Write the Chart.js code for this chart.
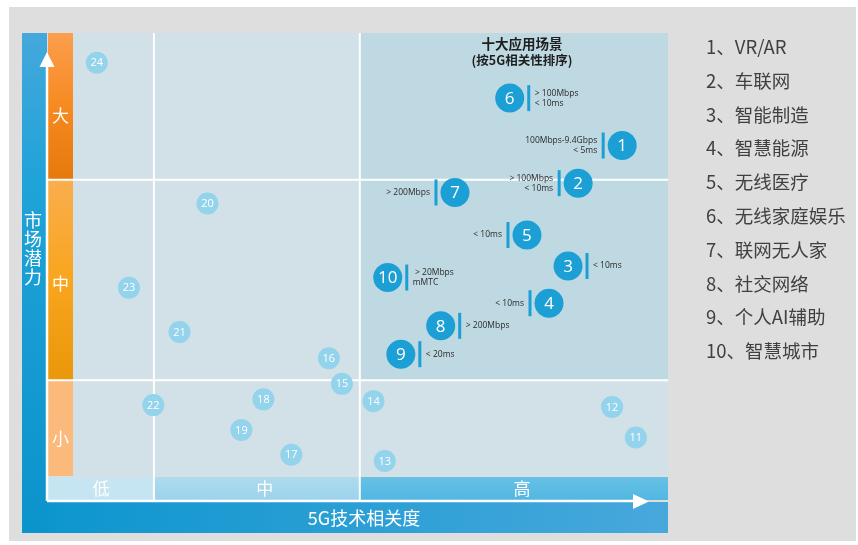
<!DOCTYPE html>
<html>
<head>
<meta charset="utf-8">
<script src="https://cdn.jsdelivr.net/npm/chart.js@4"></script>
<style>
  html, body { margin: 0; padding: 0; background: #ffffff; }
  #wrap { width: 858px; height: 545px; }
</style>
</head>
<body>
<div id="wrap"><canvas id="chart" width="858" height="545"></canvas></div>
<script>
// 十大应用场景 (numbered 1-10)
const topIds = [1, 2, 3, 4, 5, 6, 7, 8, 9, 10];
const topX = [92.3, 84.9, 83.2, 80.0, 76.3, 73.4, 64.2, 61.8, 55.1, 52.9];
const topY = [74.6, 66.1, 47.4, 39.0, 54.4, 85.3, 64.0, 33.9, 27.5, 44.8];
const topNotes = [
  ['100Mbps-9.4Gbps', '< 5ms'],
  ['> 100Mbps', '< 10ms'],
  ['< 10ms'],
  ['< 10ms'],
  ['< 10ms'],
  ['> 100Mbps', '< 10ms'],
  ['> 200Mbps'],
  ['> 200Mbps'],
  ['< 20ms'],
  [' > 20Mbps', 'mMTC']
];
const topNames = ['VR/AR', '车联网', '智能制造', '智慧能源', '无线医疗',
  '无线家庭娱乐', '联网无人家', '社交网络', '个人AI辅助', '智慧城市'];

// other scenarios (11-24)
const otherIds = [11, 12, 13, 14, 15, 16, 17, 18, 19, 20, 21, 22, 23, 24];
const otherX = [94.6, 90.6, 52.4, 50.5, 45.2, 43.0, 36.7, 32.0, 28.3, 22.6, 17.9, 13.5, 9.4, 4.0];
const otherY = [8.7, 15.6, 3.4, 16.9, 20.8, 26.6, 4.8, 17.3, 10.4, 61.5, 32.5, 16.0, 42.5, 93.3];

// axis bands
const xLevels = ['低', '中', '高'];
const yLevels = ['小', '中', '大'];
const xBreaks = [13.6, 48.2];
const yBreaks = [21.6, 66.9];
const xTitle = '5G技术相关度';
const yTitle = '市场潜力';
const titleLines = ['十大应用场景', '(按5G相关性排序)'];

// note placement: -1 = bar on left of bubble, 1 = right
const noteSide = [-1, -1, 1, -1, -1, 1, -1, 1, 1, 1];

const CJK = '"Noto Sans CJK SC", "Noto Sans", sans-serif';
const LAT = '"Open Sans", "Noto Sans", sans-serif';

const backdrop = {
  id: 'backdrop',
  beforeDraw(chart) {
    const { ctx, chartArea: a, scales: { x, y } } = chart;
    const vx = xBreaks.map(v => x.getPixelForValue(v));
    const hy = yBreaks.map(v => y.getPixelForValue(v));
    ctx.save();
    ctx.fillStyle = '#dedede';
    ctx.fillRect(9, 7, 847, 534);

    // plot background
    ctx.fillStyle = '#d1e1e7';
    ctx.fillRect(a.left, a.top, a.right - a.left, a.bottom - a.top);
    ctx.fillStyle = '#bfd9e2';
    ctx.fillRect(vx[1], a.top, a.right - vx[1], hy[0] - a.top);

    // left blue bar
    let g = ctx.createLinearGradient(0, a.top, 0, 533);
    g.addColorStop(0, '#45a8dc');
    g.addColorStop(0.3, '#1fa3d8');
    g.addColorStop(1, '#0b93cb');
    ctx.fillStyle = g;
    ctx.fillRect(22, a.top, 25, 533 - a.top);

    // bottom blue bar
    g = ctx.createLinearGradient(47, 0, a.right, 0);
    g.addColorStop(0, '#0d96ce');
    g.addColorStop(1, '#48a8dc');
    ctx.fillStyle = g;
    ctx.fillRect(47, 502, a.right - 47, 31);

    // orange level column
    const colL = 48, colW = a.left - 48;
    g = ctx.createLinearGradient(0, a.top, 0, hy[1]);
    g.addColorStop(0, '#fb9e4e');
    g.addColorStop(0.5, '#f78a20');
    g.addColorStop(1, '#e6790b');
    ctx.fillStyle = g;
    ctx.fillRect(colL, a.top, colW, hy[1] - a.top);
    g = ctx.createLinearGradient(0, hy[1], 0, hy[0]);
    g.addColorStop(0, '#f9ae4e');
    g.addColorStop(0.5, '#f9a51e');
    g.addColorStop(1, '#ea970a');
    ctx.fillStyle = g;
    ctx.fillRect(colL, hy[1], colW, hy[0] - hy[1]);
    ctx.fillStyle = '#fbb97b';
    ctx.fillRect(colL, hy[0], colW, a.bottom - hy[0]);

    // x level band
    const bandTop = a.bottom + 1, bandH = 23;
    ctx.fillStyle = '#c6e5f2';
    ctx.fillRect(48, bandTop, vx[0] - 48, bandH);
    g = ctx.createLinearGradient(0, bandTop, 0, bandTop + bandH);
    g.addColorStop(0, '#addbee');
    g.addColorStop(1, '#9dd3ea');
    ctx.fillStyle = g;
    ctx.fillRect(vx[0], bandTop, vx[1] - vx[0], bandH);
    g = ctx.createLinearGradient(0, bandTop, 0, bandTop + bandH);
    g.addColorStop(0, '#66c1e6');
    g.addColorStop(1, '#52b7e1');
    ctx.fillStyle = g;
    ctx.fillRect(vx[1], bandTop, a.right - vx[1], bandH);

    // white grid lines
    ctx.strokeStyle = '#ffffff';
    ctx.lineWidth = 2;
    vx.forEach(px => {
      ctx.beginPath(); ctx.moveTo(px, a.top); ctx.lineTo(px, 501); ctx.stroke();
    });
    hy.forEach(py => {
      ctx.beginPath(); ctx.moveTo(48, py); ctx.lineTo(a.right, py); ctx.stroke();
    });

    // axis arrows
    ctx.lineWidth = 2.5;
    ctx.beginPath(); ctx.moveTo(47, 501); ctx.lineTo(47, 64); ctx.stroke();
    ctx.beginPath(); ctx.moveTo(47, 501); ctx.lineTo(636, 501); ctx.stroke();
    ctx.fillStyle = '#ffffff';
    ctx.beginPath(); ctx.moveTo(47, 52); ctx.lineTo(39.5, 67); ctx.lineTo(54.5, 67); ctx.closePath(); ctx.fill();
    ctx.beginPath(); ctx.moveTo(649, 501.5); ctx.lineTo(633, 494); ctx.lineTo(633, 509); ctx.closePath(); ctx.fill();

    // level labels
    ctx.fillStyle = '#ffffff';
    ctx.font = '17px ' + CJK;
    ctx.textAlign = 'center';
    ctx.textBaseline = 'middle';
    const yMid = [(hy[0] + a.bottom) / 2 + 10, (hy[1] + hy[0]) / 2 + 4, (a.top + hy[1]) / 2 + 9];
    yLevels.forEach((t, i) => ctx.fillText(t, colL + colW / 2, yMid[i]));
    const xMid = [(48 + vx[0]) / 2, (vx[0] + vx[1]) / 2 + 8, (vx[1] + a.right) / 2 + 8];
    xLevels.forEach((t, i) => ctx.fillText(t, xMid[i], bandTop + bandH / 2));
    ctx.font = '18px ' + CJK;
    ctx.fillText(xTitle, 364, 518);
    [...yTitle].forEach((c, i) => ctx.fillText(c, 33, 220 + i * 19));

    // chart title
    ctx.fillStyle = '#1e1e1e';
    ctx.font = 'bold 13.5px ' + CJK;
    ctx.fillText(titleLines[0], 522, 44);
    ctx.font = 'bold 12.5px ' + CJK;
    ctx.fillText(titleLines[1], 522, 60);

    // list on the right
    ctx.fillStyle = '#404040';
    ctx.font = '18.5px ' + CJK;
    ctx.textAlign = 'left';
    topNames.forEach((n, i) => ctx.fillText(topIds[i] + '、' + n, 706, 47 + i * 33.8));
    ctx.restore();
  }
};

const marks = {
  id: 'marks',
  afterDatasetsDraw(chart) {
    const { ctx } = chart;
    ctx.save();
    ctx.textBaseline = 'middle';
    ctx.fillStyle = '#ffffff';
    ctx.textAlign = 'center';
    ctx.font = '11px ' + LAT;
    chart.getDatasetMeta(1).data.forEach((el, i) => {
      ctx.fillText(String(otherIds[i]), el.x, el.y + 0.5);
    });
    chart.getDatasetMeta(0).data.forEach((el, i) => {
      ctx.fillStyle = '#ffffff';
      ctx.textAlign = 'center';
      ctx.font = '17px ' + LAT;
      ctx.fillText(String(topIds[i]), el.x, el.y + 1);
      const s = noteSide[i];
      const bx = el.x + s * 19;
      ctx.fillStyle = '#1b9fd5';
      ctx.fillRect(bx - 1.5, el.y - 13, 3, 26);
      ctx.fillStyle = '#2a2a2a';
      ctx.font = '8.5px ' + LAT;
      ctx.textAlign = s > 0 ? 'left' : 'right';
      const lines = topNotes[i];
      lines.forEach((t, k) => {
        const ly = el.y + (k - (lines.length - 1) / 2) * 10;
        ctx.fillText(t, bx + s * 6, ly);
      });
    });
    ctx.restore();
  }
};

new Chart(document.getElementById('chart'), {
  type: 'scatter',
  data: {
    datasets: [
      {
        label: '十大应用场景',
        data: topX.map((v, i) => ({ x: v, y: topY[i] })),
        pointRadius: 14.5,
        pointBackgroundColor: '#1b9fd5',
        pointBorderWidth: 0
      },
      {
        label: '其他',
        data: otherX.map((v, i) => ({ x: v, y: otherY[i] })),
        pointRadius: 11,
        pointBackgroundColor: '#93d3ec',
        pointBorderWidth: 0
      }
    ]
  },
  options: {
    responsive: false,
    animation: false,
    events: [],
    layout: { padding: { left: 73, right: 190, top: 33, bottom: 69 } },
    plugins: { legend: { display: false }, tooltip: { enabled: false } },
    scales: {
      x: { type: 'linear', min: 0, max: 100, display: false },
      y: { type: 'linear', min: 0, max: 100, display: false }
    }
  },
  plugins: [backdrop, marks]
});
</script>
</body>
</html>
